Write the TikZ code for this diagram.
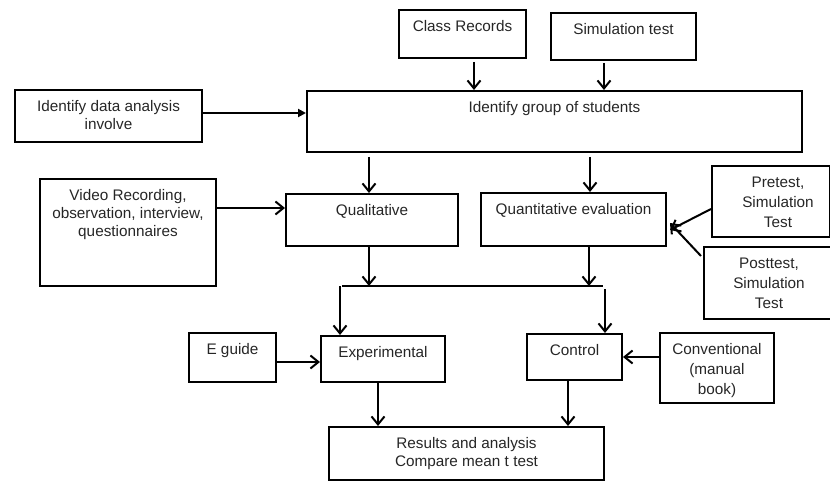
\documentclass[tikz,border=0pt]{standalone}
\usepackage{fontspec}
\setmainfont{Liberation Sans}
\usepackage{tikz}
\usetikzlibrary{arrows.meta, positioning, calc}

\tikzset{
  box/.style={draw, line width=2pt, anchor=north west, inner sep=0pt},
  txt/.style={anchor=north, inner sep=0pt, align=center, yshift=-11.5pt,
    text=black!85, font=\fontsize{15.3}{18}\selectfont},
  wide/.style={font=\fontsize{15.3}{20}\selectfont},
  arr/.style={line width=2pt, -{Straight Barb[length=8pt,width=13pt,line width=2pt]}},
}

\begin{document}
\begin{tikzpicture}[x=1pt, y=-1pt]
    \useasboundingbox (0,0) rectangle (830,481);
    \clip (0,0) rectangle (830,481);

    % Sources
    \node[box, minimum width=127pt, minimum height=48pt,
      label={[txt]north:Class Records}] (records) at (398,9) {};
    \node[box, minimum width=145pt, minimum height=47pt,
      label={[txt]north:Simulation test}] (simtest) at (550,12) {};
    \node[box, minimum width=187pt, minimum height=52pt,
      label={[txt]north:Identify data analysis\\involve}] (involve) at (14,89) {};
    \node[box, minimum width=495pt, minimum height=61pt,
      label={[txt]north:Identify group of students}] (group) at (306,90) {};

    % Evaluation
    \node[box, minimum width=176pt, minimum height=107pt,
      label={[txt]north:Video Recording,\\observation, interview,\\questionnaires}] (video) at (39,178) {};
    \node[box, minimum width=172pt, minimum height=52pt,
      label={[txt]north:Qualitative}] (qual) at (285,193) {};
    \node[box, minimum width=185pt, minimum height=53pt,
      label={[txt]north:Quantitative evaluation}] (quant) at (480,192) {};
    \node[box, minimum width=118pt, minimum height=71pt,
      label={[txt, wide, xshift=7pt]north:Pretest,\\Simulation\\Test}] (pretest) at (711,165) {};
    \node[box, minimum width=130pt, minimum height=72pt,
      label={[txt, wide]north:Posttest,\\Simulation\\Test}] (posttest) at (703,246) {};

    % Groups
    \node[box, minimum width=87pt, minimum height=49pt,
      label={[txt]north:E guide}] (eguide) at (188,332) {};
    \node[box, minimum width=124pt, minimum height=46pt,
      label={[txt]north:Experimental}] (exper) at (320,335) {};
    \node[box, minimum width=95pt, minimum height=46pt,
      label={[txt]north:Control}] (control) at (526,333) {};
    \node[box, minimum width=114pt, minimum height=70pt,
      label={[txt, wide]north:Conventional\\(manual\\book)}] (conv) at (659,332) {};
    \node[box, minimum width=275pt, minimum height=53pt,
      label={[txt]north:Results and analysis\\Compare mean t test}] (results) at (328,426) {};

    % Split
    \coordinate (splitl) at (342,286);
    \coordinate (splitr) at (603,286);
    \coordinate (toexp) at (340,286);
    \coordinate (toctl) at (605,289);

    \draw[arr] ([xshift=11.5pt,yshift=-3pt]records.south) -- ([xshift=11.5pt]records.south |- group.north);
    \draw[arr] ([xshift=-19.5pt,yshift=-2pt]simtest.south) -- ([xshift=-19.5pt]simtest.south |- group.north);
    \draw[line width=2pt, -{Triangle[length=8pt,width=8pt]}]
      ([yshift=3pt]involve.east) -- ([yshift=3pt]involve.east -| group.west);

    \draw[arr] ([xshift=-3pt,yshift=-4pt]qual.north |- group.south) -- ([xshift=-3pt]qual.north);
    \draw[arr] ([xshift=16.5pt,yshift=-4pt]quant.north |- group.south) -- ([xshift=16.5pt]quant.north);
    \draw[arr] ([yshift=24.5pt]video.east) -- ([yshift=12pt]qual.west);
    \draw[arr] ([yshift=-7.5pt]pretest.west) -- ([xshift=3pt,yshift=-10.5pt]quant.east);
    \draw[arr] ([xshift=-2pt,yshift=27pt]posttest.west) -- ([xshift=3pt,yshift=-3.5pt]quant.east);

    \draw[line width=2pt] (splitl) -- (splitr);
    \draw[arr] ([xshift=-3pt]qual.south) -- ([xshift=-3pt]qual.south |- splitl);
    \draw[arr] ([xshift=15.5pt]quant.south) -- ([xshift=15.5pt]quant.south |- splitr);
    \draw[arr] (toexp) -- (toexp |- exper.north);
    \draw[arr] (toctl) -- (toctl |- control.north);

    \draw[arr] ([yshift=-4.5pt]eguide.east) -- ([yshift=-3pt]exper.west);
    \draw[arr] ([yshift=11pt]conv.west) -- (control.east);
    \draw[arr] ([xshift=-5pt]exper.south) -- ([xshift=-5pt]exper.south |- results.north);
    \draw[arr] ([xshift=-6.5pt]control.south) -- ([xshift=-6.5pt]control.south |- results.north);
\end{tikzpicture}
\end{document}
